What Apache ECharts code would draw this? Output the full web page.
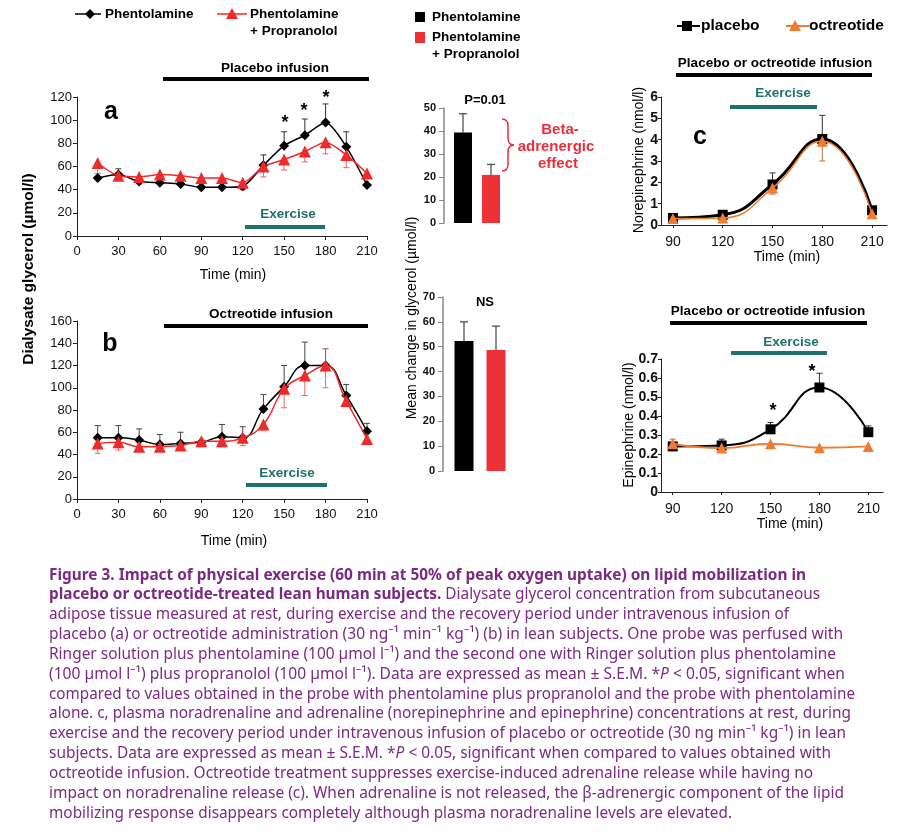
<!DOCTYPE html>
<html><head><meta charset="utf-8">
<script src="https://cdn.jsdelivr.net/npm/echarts@6/dist/echarts.min.js"></script>
<style>html,body{margin:0;padding:0;background:#fff}#c{width:910px;height:834px}</style>
</head><body><div id="c"></div>
<script>
// ---------------- DATA ----------------
const timeAB = [15,30,45,60,75,90,105,120,135,150,165,180,195,210];
// panel a (placebo infusion)
const aPhent        = [50,53,47,46,45,42,42,43,61,78,87,98,77,44];
const aPhentProp    = [63,52,51,53,52,50,50,46,60,66,73,81,70,54];
const aPhentErrHi   = [null,58,null,null,null,null,null,null,70,90,101,114,90,null];
const aPhentErrLo   = [null,null,null,null,null,null,null,40,null,null,null,null,null,null];
const aPropErrLo    = [54,null,null,null,null,null,null,null,51,57,64,71,59,null];
// panel b (octreotide infusion)
const bPhent        = [55,55,53,49,50,51,56,55,81,101,120,120,93,61];
const bPhentProp    = [50,51,47,47,48,52,52,55,67,99,111,120,88,54];
const bPhentErrHi   = [66,66,63,58,60,null,67,65,94,120,141,null,103,68];
const bPropErrLo    = [41,44,46,null,null,47,47,48,62,82,93,100,null,49];
const bPropErrHi    = [null,null,null,null,null,null,null,null,null,null,null,135,null,null];
// mean change in glycerol (bars)
const barGroups        = ['Phentolamine','Phentolamine + Propranolol'];
const barPlacebo       = [39.3, 20.9];
const barPlaceboErr    = [47.5, 25.5];
const barOctreotide    = [52.3, 48.7];
const barOctreotideErr = [60, 58.3];
// panel c
const timeC = [90,120,150,180,210];
const nePlacebo       = [0.33,0.48,1.9,4.03,0.69];
const neOctreotide    = [0.30,0.33,1.73,3.92,0.53];
const nePlaceboErrHi  = [null,null,2.44,5.14,null];
const neOctErrLo      = [null,null,1.45,3.0,null];
const epPlacebo       = [0.24,0.245,0.33,0.55,0.315];
const epOctreotide    = [0.254,0.231,0.254,0.233,0.24];
const epPlaceboErrHi  = [null,0.278,0.366,0.625,0.348];
const epOctErrHi      = [0.278,null,null,null,null];
const epOctErrLo      = [null,null,null,null,0.213];

// ---------------- STYLE ----------------
const F = '"Liberation Sans", Arial, sans-serif';
const FN = '"Liberation Sans Narrow", "Liberation Sans", Arial, sans-serif';
const RED = '#ee2b2b', ORANGE = '#f07c32', TEAL = '#1f7070', PURPLE = '#7b2a83';

const chart = echarts.init(document.getElementById('c'));

function pairs(xs, ys){ return xs.map((x,i)=>[x, ys[i]]); }
function errData(xs, mean, ends){
  const out=[]; xs.forEach((x,i)=>{ if(ends[i]!=null) out.push([x, mean[i], ends[i]]); }); return out;
}
function errSeries(gi, data, color, cap, lw){
  return {type:'custom', xAxisIndex:gi, yAxisIndex:gi, data, z:1, silent:true,
    encode:{x:0, y:[1,2]},
    renderItem(params, api){
      const x = api.value(0);
      const p0 = api.coord([x, api.value(1)]), p1 = api.coord([x, api.value(2)]);
      return {type:'group', children:[
        {type:'line', shape:{x1:p0[0],y1:p0[1],x2:p1[0],y2:p1[1]}, style:{stroke:color, lineWidth:lw||1}},
        {type:'line', shape:{x1:p1[0]-cap,y1:p1[1],x2:p1[0]+cap,y2:p1[1]}, style:{stroke:color, lineWidth:lw||1}}
      ]};
    }};
}
function lineSeries(gi, data, color, symbol, size, width, smooth, z){
  return {type:'line', xAxisIndex:gi, yAxisIndex:gi, data, symbol, symbolSize:size, smooth,
    showSymbol:true, z:z||2, lineStyle:{color, width}, itemStyle:{color, borderWidth:0}, silent:true};
}

const axisLineBlk = {show:true, lineStyle:{color:'#222', width:1}};
function timeAxisAB(gi){
  return {gridIndex:gi, type:'value', min:0, max:210, interval:30,
    axisLine:axisLineBlk, axisTick:{show:true, length:4, lineStyle:{color:'#222'}},
    splitLine:{show:false},
    axisLabel:{fontFamily:F, fontSize:13, color:'#111', margin:9}};
}
function valAxis(gi, max, interval, opts){
  return Object.assign({gridIndex:gi, type:'value', min:0, max, interval,
    axisLine:axisLineBlk, axisTick:{show:true, length:4, lineStyle:{color:'#222'}},
    splitLine:{show:false},
    axisLabel:{fontFamily:F, fontSize:13, color:'#111', margin:5}}, opts||{});
}
function timeAxisC(gi){
  return {gridIndex:gi, type:'value', min:82.8, max:219,
    axisLine:axisLineBlk,
    axisTick:{show:true, length:3, customValues:timeC, lineStyle:{color:'#222'}},
    splitLine:{show:false},
    axisLabel:{fontFamily:FN, fontSize:14, color:'#111', margin:10, customValues:timeC}};
}
function barYAxis(gi, max){
  return {gridIndex:gi, type:'value', min:0, max, interval:10, offset:5,
    axisLine:{show:true, lineStyle:{color:'#888', width:1.5}},
    axisTick:{show:true, length:5, lineStyle:{color:'#888'}},
    splitLine:{show:false},
    axisLabel:{fontFamily:FN, fontSize:11, fontWeight:'bold', color:'#111', margin:8}};
}
function barXAxis(gi){
  return {gridIndex:gi, type:'category', data:barGroups, axisLine:{show:false},
    axisTick:{show:false}, axisLabel:{show:false}};
}
function barSeries(gi, vals, bw){
  return {type:'bar', xAxisIndex:gi, yAxisIndex:gi, barWidth:bw, z:2, silent:true,
    data: vals.map((v,i)=>({value:v, itemStyle:{color: i===0 ? '#000' : '#ec3237'}}))};
}
function barErr(gi, vals, errs){
  return errSeries(gi, vals.map((v,i)=>[i, v, errs[i]]), '#444', 4, 1.2);
}

// ---------------- GRAPHIC (annotations, legends, caption) ----------------
const G = [];
function txt(x, y, text, font, color, align, rot){
  G.push({type:'text', x, y, rotation: rot||0, silent:true, z:10,
    style:{text, font, fill: color||'#000', align: align||'center', verticalAlign:'middle',
      textAlign: align||'center', textVerticalAlign:'middle'}});
}
function hbar(x1, x2, y, color, h){
  G.push({type:'rect', silent:true, shape:{x:x1, y:y-h/2, width:x2-x1, height:h}, style:{fill:color}});
}
function seg(x1,y1,x2,y2,color,w){
  G.push({type:'line', silent:true, shape:{x1,y1,x2,y2}, style:{stroke:color, lineWidth:w}});
}
function curve(x1,y1,cx,cy,x2,y2,color,w){
  G.push({type:'bezierCurve', silent:true, shape:{x1,y1,x2,y2,cpx1:cx,cpy1:cy}, style:{stroke:color, lineWidth:w, fill:null}});
}
function poly(points, color){ G.push({type:'polygon', silent:true, shape:{points}, style:{fill:color}}); }

// legend a/b
seg(75,14,101,14,'#000',1.5); poly([[90,9],[95,14],[90,19],[85,14]],'#000');
txt(105,14,'Phentolamine','bold 13.5px '+F,'#000','left');
seg(217,14,247,14,RED,1.5); poly([[232,8],[238,19],[226,19]],RED);
txt(250,14,'Phentolamine','bold 13.5px '+F,'#000','left');
txt(250,31,'+ Propranolol','bold 13.5px '+F,'#000','left');
// panel a annotations
txt(275,68,'Placebo infusion','bold 13.5px '+F);
hbar(163,369,79,'#000',4);
txt(288,214,'Exercise','bold 13.5px '+F,TEAL);
hbar(245,325,227,TEAL,4);
txt(111,112,'a','bold 25px '+F);
txt(285,123,'*','bold 18px '+F); txt(304,111,'*','bold 18px '+F); txt(326,98,'*','bold 18px '+F);
txt(233,275,'Time (min)','14px '+F);
// panel b annotations
txt(271,314,'Octreotide infusion','bold 13.5px '+F);
hbar(164,368,326,'#000',4);
txt(287,473,'Exercise','bold 13.5px '+F,TEAL);
hbar(246,327,485,TEAL,4);
txt(110,344,'b','bold 25px '+F);
txt(234,541,'Time (min)','14px '+F);
txt(29,269,'Dialysate glycerol (\u00b5mol/l)','bold 15.5px '+F,'#000','center',Math.PI/2);
// bar legend and annotations
G.push({type:'rect', silent:true, shape:{x:415,y:12,width:10,height:10}, style:{fill:'#000'}});
txt(432,17,'Phentolamine','bold 13.5px '+F,'#000','left');
G.push({type:'rect', silent:true, shape:{x:415,y:32,width:10,height:11}, style:{fill:'#ec3237'}});
txt(432,37,'Phentolamine','bold 13.5px '+F,'#000','left');
txt(432,54,'+ Propranolol','bold 13.5px '+F,'#000','left');
txt(485,100,'P=0.01','bold 13px '+F);
txt(485,302,'NS','bold 13px '+F);
// brace
const BR = '#e8303a';
curve(502,119,508,119,508,126,BR,1.5);
seg(508,126,508,138,BR,1.5);
curve(508,138,508,145,514,145,BR,1.5);
curve(514,145,508,145,508,152,BR,1.5);
seg(508,152,508,164,BR,1.5);
curve(508,164,508,171,502,171,BR,1.5);
txt(560,130,'Beta-','bold 15px '+F,BR);
txt(556,147,'adrenergic','bold 15px '+F,BR);
txt(558,164,'effect','bold 15px '+F,BR);
txt(412,318,'Mean change in glycerol (\u00b5mol/l)','14px '+F,'#000','center',Math.PI/2);
// panel c legend
seg(677,26,700,26,'#000',2); G.push({type:'rect', silent:true, shape:{x:682,y:21,width:10,height:10}, style:{fill:'#000'}});
txt(701,26,'placebo','bold 15.5px '+F,'#000','left');
seg(786,26,809,26,ORANGE,2); poly([[795,20],[801,31],[789,31]],ORANGE);
txt(809,26,'octreotide','bold 15.5px '+F,'#000','left');
// norepinephrine annotations
txt(775,63,'Placebo or octreotide infusion','bold 13.5px '+F);
hbar(676,872,75,'#000',4);
txt(783,93,'Exercise','bold 13.5px '+F,TEAL);
hbar(730,817,107,TEAL,4);
txt(700,137,'c','bold 25px '+F);
txt(787,257,'Time (min)','14px '+F);
txt(639,160,'Norepinephrine (nmol/l)','14px '+FN,'#000','center',Math.PI/2);
// epinephrine annotations
txt(768,311,'Placebo or octreotide infusion','bold 13.5px '+F);
hbar(670,867,323,'#000',4);
txt(791,342,'Exercise','bold 13.5px '+F,TEAL);
hbar(731,827,353,TEAL,4);
txt(773,411,'*','bold 18px '+F); txt(812,372,'*','bold 18px '+F);
txt(790,524,'Time (min)','14px '+F);
txt(629,425,'Epinephrine (nmol/l)','14px '+FN,'#000','center',Math.PI/2);

// caption
const capLines = [
  [['b','Figure 3. Impact of physical exercise (60 min at 50% of peak oxygen uptake) on lipid mobilization in']],
  [['b','placebo or octreotide-treated lean human subjects. '],['r','Dialysate glycerol concentration from subcutaneous']],
  [['r','adipose tissue measured at rest, during exercise and the recovery period under intravenous infusion of']],
  [['r','placebo (a) or octreotide administration (30 ng\u207b\u00b9 min\u207b\u00b9 kg\u207b\u00b9) (b) in lean subjects. One probe was perfused with']],
  [['r','Ringer solution plus phentolamine (100 \u00b5mol l\u207b\u00b9) and the second one with Ringer solution plus phentolamine']],
  [['r','(100 \u00b5mol l\u207b\u00b9) plus propranolol (100 \u00b5mol l\u207b\u00b9). Data are expressed as mean \u00b1 S.E.M. *'],['i','P'],['r',' < 0.05, significant when']],
  [['r','compared to values obtained in the probe with phentolamine plus propranolol and the probe with phentolamine']],
  [['r','alone. c, plasma noradrenaline and adrenaline (norepinephrine and epinephrine) concentrations at rest, during']],
  [['r','exercise and the recovery period under intravenous infusion of placebo or octreotide (30 ng min\u207b\u00b9 kg\u207b\u00b9) in lean']],
  [['r','subjects. Data are expressed as mean \u00b1 S.E.M. *'],['i','P'],['r',' < 0.05, significant when compared to values obtained with']],
  [['r','octreotide infusion. Octreotide treatment suppresses exercise-induced adrenaline release while having no']],
  [['r','impact on noradrenaline release (c). When adrenaline is not released, the \u03b2-adrenergic component of the lipid']],
  [['r','mobilizing response disappears completely although plasma noradrenaline levels are elevated.']]
];
const capWidths = [757,771,740,794,787,796,806,802,797,782,764,795,683];
const capX = 49, capY0 = 575, capDY = 19.83;
const capFonts = {r:'16px "Noto Sans", sans-serif', b:'bold 16px "Noto Sans", sans-serif', i:'italic 16px "Noto Sans", sans-serif'};
const mctx = document.createElement('canvas').getContext('2d');
function mw(font, s){ mctx.font = font; return mctx.measureText(s).width; }
capLines.forEach((line, li)=>{
  const ws = line.map(s=>mw(capFonts[s[0]], s[1]));
  const tot = ws.reduce((a,b)=>a+b,0);
  const sx = capWidths[li]/tot;
  let cx = capX;
  line.forEach((s, si)=>{
    G.push({type:'text', x:cx, y:capY0+li*capDY, scaleX:sx, silent:true,
      style:{text:s[1], font:capFonts[s[0]], fill:PURPLE, align:'left', verticalAlign:'middle', textAlign:'left', textVerticalAlign:'middle'}});
    cx += ws[si]*sx;
  });
});

// ---------------- OPTION ----------------
const cYLabel = {fontFamily:FN, fontSize:14, fontWeight:'bold', color:'#111', margin:3};
const option = {
  animation:false,
  backgroundColor:'#fff',
  grid:[
    {left:77, top:97, width:290, height:139},    // a
    {left:77, top:321, width:290, height:178},   // b
    {left:449, top:108, width:56, height:115},   // bars top
    {left:448, top:297, width:64, height:174},   // bars bottom
    {left:661, top:97, width:226, height:128},   // norepinephrine
    {left:661, top:359, width:222, height:133}   // epinephrine
  ],
  xAxis:[ timeAxisAB(0), timeAxisAB(1), barXAxis(2), barXAxis(3), timeAxisC(4), timeAxisC(5) ],
  yAxis:[
    valAxis(0,120,20),
    valAxis(1,160,20),
    barYAxis(2,50),
    barYAxis(3,70),
    valAxis(4,6,1,{axisLabel:cYLabel, axisTick:{show:true,length:3}}),
    valAxis(5,0.7,0.1,{axisLabel:Object.assign({formatter:v=>v===0?'0':v.toFixed(1)}, cYLabel), axisTick:{show:true,length:3}})
  ],
  series:[
    // panel a
    errSeries(0, errData(timeAB, aPhent, aPhentErrHi), '#333', 3),
    errSeries(0, errData(timeAB, aPhent, aPhentErrLo), '#333', 3),
    errSeries(0, errData(timeAB, aPhentProp, aPropErrLo), '#e86060', 3),
    lineSeries(0, pairs(timeAB, aPhent), '#000', 'diamond', 10, 1.5, 0.25, 3),
    lineSeries(0, pairs(timeAB, aPhentProp), RED, 'triangle', 12, 1.5, 0.25, 4),
    // panel b
    errSeries(1, errData(timeAB, bPhent, bPhentErrHi), '#444', 3),
    errSeries(1, errData(timeAB, bPhentProp, bPropErrLo), '#e06a6a', 3),
    errSeries(1, errData(timeAB, bPhentProp, bPropErrHi), '#a04848', 3),
    lineSeries(1, pairs(timeAB, bPhent), '#000', 'diamond', 10, 1.5, 0.45, 3),
    lineSeries(1, pairs(timeAB, bPhentProp), RED, 'triangle', 12, 1.5, 0.45, 4),
    // bars
    barSeries(2, barPlacebo, 18), barErr(2, barPlacebo, barPlaceboErr),
    barSeries(3, barOctreotide, 19), barErr(3, barOctreotide, barOctreotideErr),
    // norepinephrine
    errSeries(4, errData(timeC, nePlacebo, nePlaceboErrHi), '#333', 3),
    errSeries(4, errData(timeC, neOctreotide, neOctErrLo), '#c0703a', 3),
    lineSeries(4, pairs(timeC, nePlacebo), '#000', 'rect', 10, 3, 0.5, 3),
    lineSeries(4, pairs(timeC, neOctreotide), ORANGE, 'triangle', 11, 1.5, 0.5, 4),
    // epinephrine
    errSeries(5, errData(timeC, epPlacebo, epPlaceboErrHi), '#333', 3),
    errSeries(5, errData(timeC, epOctreotide, epOctErrHi), '#c0703a', 3),
    errSeries(5, errData(timeC, epOctreotide, epOctErrLo), '#c0703a', 3),
    lineSeries(5, pairs(timeC, epPlacebo), '#000', 'rect', 10, 2, 0.5, 3),
    lineSeries(5, pairs(timeC, epOctreotide), ORANGE, 'triangle', 11, 1.8, 0.5, 4)
  ],
  graphic:{elements:G}
};
chart.setOption(option);
</script></body></html>
